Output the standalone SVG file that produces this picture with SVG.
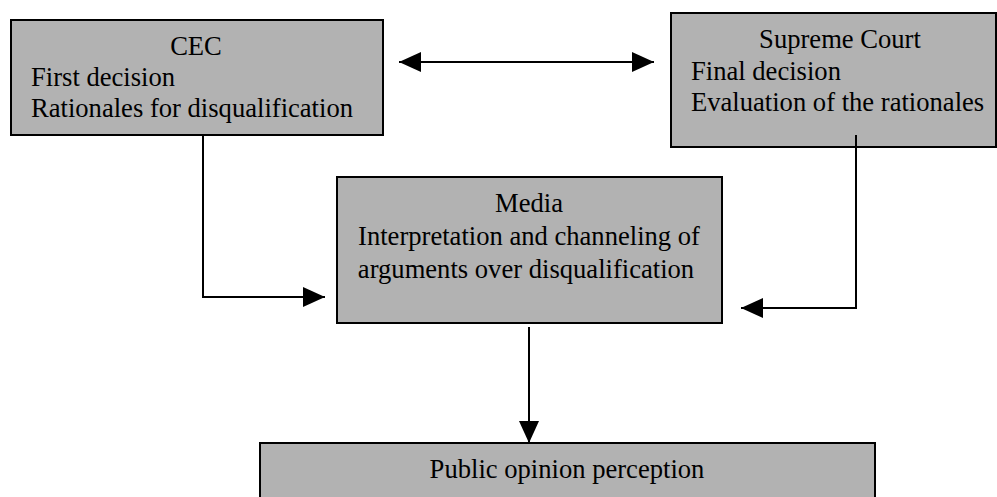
<svg xmlns="http://www.w3.org/2000/svg" width="997" height="497" viewBox="0 0 997 497">
<style>
.box{fill:#b2b2b2;stroke:#000;stroke-width:2}
.t{font-family:"Liberation Serif","Times New Roman",serif;font-size:26.6px;fill:#000}
.c{text-anchor:middle}
.ln{fill:none;stroke:#000;stroke-width:2}
</style>
<defs>
<marker id="ah" viewBox="0 0 22 20" refX="22" refY="10" markerWidth="22" markerHeight="20" markerUnits="userSpaceOnUse" orient="auto-start-reverse">
<path d="M0,0 L22,10 L0,20 Z" fill="#000"/>
</marker>
</defs>
<rect x="0" y="0" width="997" height="497" fill="#fff"/>
<g id="cec">
<rect class="box" x="11" y="20" width="372" height="115"/>
<text class="t c" x="196" y="55">CEC</text>
<text class="t" x="31" y="86">First decision</text>
<text class="t" x="31" y="117">Rationales for disqualification</text>
</g>
<g id="supreme">
<rect class="box" x="671" y="13" width="325" height="134"/>
<text class="t c" x="840" y="48">Supreme Court</text>
<text class="t" x="691" y="80">Final decision</text>
<text class="t" x="691" y="111">Evaluation of the rationales</text>
</g>
<g id="media">
<rect class="box" x="337" y="177" width="385" height="146"/>
<text class="t c" x="529" y="212">Media</text>
<text class="t c" x="529" y="245">Interpretation and channeling of</text>
<text class="t c" x="526" y="278">arguments over disqualification</text>
</g>
<g id="public">
<rect class="box" x="260" y="443" width="615" height="70"/>
<text class="t c" x="567" y="478">Public opinion perception</text>
</g>
<g id="connectors">
<line class="ln" x1="399" y1="62" x2="654" y2="62" marker-start="url(#ah)" marker-end="url(#ah)"/>
<polyline class="ln" points="203,135 203,297 325,297" marker-end="url(#ah)"/>
<polyline class="ln" points="856,135 856,308 741,308" marker-end="url(#ah)"/>
<line class="ln" x1="529" y1="327" x2="529" y2="443" marker-end="url(#ah)"/>
</g>
</svg>
